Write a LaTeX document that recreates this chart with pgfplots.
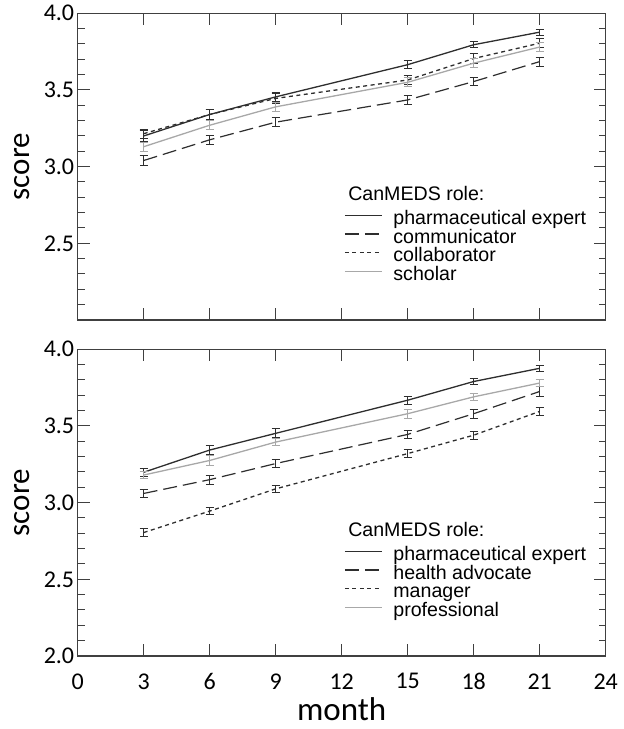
\documentclass[border=0pt]{standalone}
\usepackage{fontspec}
\setmainfont{Carlito}
\newfontfamily\legfont{Liberation Sans}
\usepackage{pgfplots}
\pgfplotsset{compat=1.18}

\definecolor{ink}{HTML}{2E2E2E}
\definecolor{frame}{HTML}{404040}
\definecolor{lightln}{HTML}{A8A8A8}

\pgfplotsset{
  panel/.style={
    scale only axis, width=528pt, height=306.7pt,
    xmin=0, xmax=24, ymin=2, ymax=4,
    xtick={0,3,...,24}, ytick={2,2.5,3,3.5,4},
    minor y tick num=4,
    tick align=inside,
    major tick length=12pt, minor tick length=7pt,
    axis line style={frame, line width=1.2pt},
    tick style={frame, line width=1pt},
    every tick label/.append style={font=\fontsize{24}{28}\selectfont, text=black},
    xticklabel style={yshift=-14pt},
    ylabel={score},
    ylabel style={font=\fontsize{31}{36}\selectfont, at={(axis description cs:0,0.5)}, anchor=center, inner sep=0pt, yshift=56pt},
    legend cell align=left,
    legend style={at={(axis cs:12.1,2.713)}, anchor=north west, draw=none, fill=none,
      font=\legfont\fontsize{19.6}{19.6}\selectfont, row sep=0pt, column sep=11pt, inner sep=0pt,
      nodes={inner sep=0pt, text height=13.5pt, text depth=5.2pt}},
    legend image code/.code={\draw[#1] (0pt,5pt) -- (37pt,5pt);},
  },
  ebar/.style={error bars/.cd, y dir=both, y explicit,
    error bar style={solid, line width=1pt},
    error mark options={solid, line width=1pt, mark size=4pt, rotate=90}},
  pe/.style={ink, line width=1.3pt, ebar},
  ld/.style={ink, line width=1.2pt, dash pattern=on 14pt off 6pt, ebar},
  sd/.style={ink, line width=1.3pt, dash pattern=on 4pt off 3.5pt, ebar},
  gr/.style={lightln, line width=1.3pt, ebar},
}

\begin{document}
\begin{tikzpicture}
\useasboundingbox (0,0) rectangle (624pt,729pt);

% upper panel
\begin{axis}[panel, at={(77.7pt,409pt)}, anchor=south west,
  xticklabels={}, yticklabels={,2.5,3.0,3.5,4.0}]
\addplot[pe] coordinates {(3,3.200) +- (0,0.035) (6,3.340) +- (0,0.03) (9,3.455) +- (0,0.03)
  (15,3.665) +- (0,0.025) (18,3.795) +- (0,0.02) (21,3.877) +- (0,0.02)};
\addplot[ld] coordinates {(3,3.040) +- (0,0.03) (6,3.175) +- (0,0.03) (9,3.290) +- (0,0.03)
  (15,3.435) +- (0,0.03) (18,3.555) +- (0,0.025) (21,3.685) +- (0,0.03)};
\addplot[sd] coordinates {(3,3.215) +- (0,0.03) (6,3.340) +- (0,0.03) (9,3.445) +- (0,0.03)
  (15,3.565) +- (0,0.03) (18,3.705) +- (0,0.03) (21,3.805) +- (0,0.03)};
\addplot[gr] coordinates {(3,3.130) +- (0,0.03) (6,3.270) +- (0,0.03) (9,3.390) +- (0,0.03)
  (15,3.550) +- (0,0.03) (18,3.675) +- (0,0.03) (21,3.780) +- (0,0.03)};
\legend{pharmaceutical expert, communicator, collaborator, scholar}
\node[anchor=west, inner sep=0pt, font=\legfont\fontsize{19.6}{19.6}\selectfont] at (axis cs:12.29,2.827) {CanMEDS role:};
\end{axis}

% lower panel
\begin{axis}[panel, at={(77.7pt,73pt)}, anchor=south west,
  xticklabels={0,3,6,9,12,15,18,21,24}, yticklabels={2.0,2.5,3.0,3.5,4.0},
  xlabel={month},
  xlabel style={font=\fontsize{33}{38}\selectfont, at={(axis description cs:0.5,0)}, anchor=center, inner sep=0pt, yshift=-53pt}]
\addplot[pe] coordinates {(3,3.198) +- (0,0.025) (6,3.343) +- (0,0.03) (9,3.452) +- (0,0.03)
  (15,3.668) +- (0,0.025) (18,3.790) +- (0,0.02) (21,3.876) +- (0,0.02)};
\addplot[ld] coordinates {(3,3.060) +- (0,0.025) (6,3.150) +- (0,0.03) (9,3.255) +- (0,0.025)
  (15,3.445) +- (0,0.025) (18,3.580) +- (0,0.03) (21,3.725) +- (0,0.035)};
\addplot[sd] coordinates {(3,2.805) +- (0,0.025) (6,2.945) +- (0,0.025) (9,3.090) +- (0,0.025)
  (15,3.320) +- (0,0.025) (18,3.440) +- (0,0.025) (21,3.595) +- (0,0.025)};
\addplot[gr] coordinates {(3,3.180) +- (0,0.02) (6,3.275) +- (0,0.03) (9,3.395) +- (0,0.025)
  (15,3.580) +- (0,0.03) (18,3.690) +- (0,0.025) (21,3.780) +- (0,0.025)};
\legend{pharmaceutical expert, health advocate, manager, professional}
\node[anchor=west, inner sep=0pt, font=\legfont\fontsize{19.6}{19.6}\selectfont] at (axis cs:12.29,2.827) {CanMEDS role:};
\end{axis}
\end{tikzpicture}
\end{document}
